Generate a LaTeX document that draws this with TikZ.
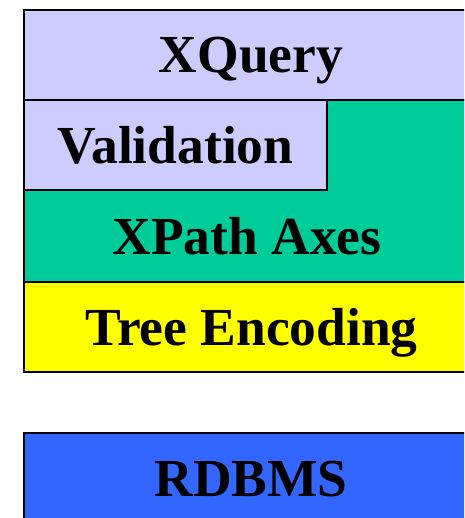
\documentclass[tikz,border=0pt]{standalone}
\usepackage{fontspec}
\setmainfont{Liberation Serif}
\definecolor{layerlav}{HTML}{CCCCFF}
\definecolor{layergreen}{HTML}{00CC99}
\definecolor{layeryellow}{HTML}{FFFF00}
\definecolor{layerblue}{HTML}{3366FF}
\tikzset{
  layer/.style={draw=black, line width=1.5pt},
  label/.style={font=\fontsize{53.5}{62}\selectfont\bfseries, text=black,
    inner sep=0pt, text height=36pt, text depth=0pt},
}
\begin{document}
\begin{tikzpicture}[x=1pt, y=-1pt]
  \useasboundingbox (0,0) rectangle (464,518);
  \clip (0,0) rectangle (464,518);
  % stack of layers
  \path[layer, fill=layerlav] (24,10) rectangle (478,100);
  \path[layer, fill=layergreen] (24,100) rectangle (478,282);
  \path[layer, fill=layerlav] (24,100) rectangle (327,190);
  \path[layer, fill=layeryellow] (24,282) rectangle (478,372);
  \path[layer, fill=layerblue] (24,433) rectangle (478,523);
  % layer names
  \node[label] (xquery) at (251,55) {XQuery};
  \node[label] (valid) at (175.5,145.5) {Validation};
  \node[label] (xpath) at (247,236) {XPath Axes};
  \node[label] (tree) at (251.5,327) {Tree Encoding};
  \node[label] (rdbms) at (251,478) {RDBMS};
\end{tikzpicture}
\end{document}
